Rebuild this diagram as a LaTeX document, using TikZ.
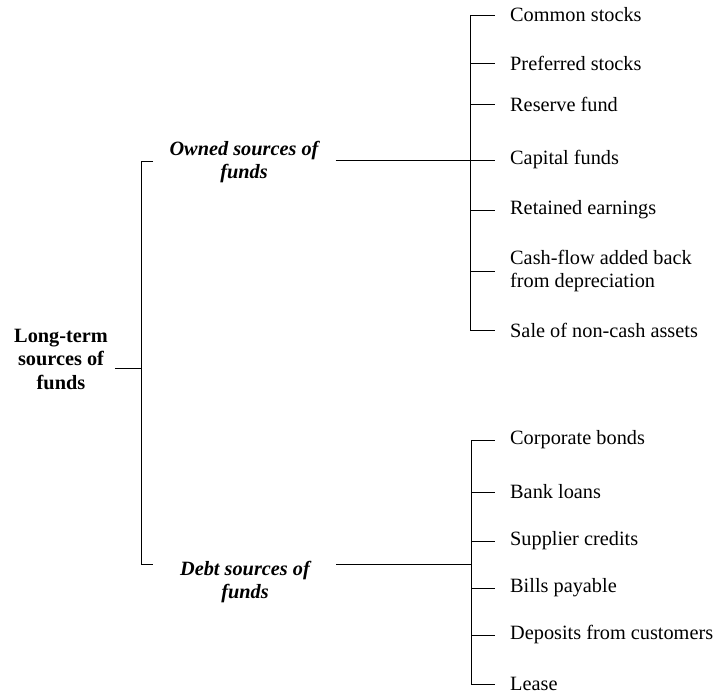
\documentclass[tikz,border=0pt]{standalone}
\usepackage{fontspec}
\setmainfont{Liberation Serif}
\begin{document}
\begin{tikzpicture}[x=1pt,y=-1pt,
  every node/.style={inner sep=3pt,font=\fontsize{20.3}{23.5}\selectfont},
  item/.style={anchor=west,align=left},
  grp/.style={align=center,font=\fontsize{20.3}{23.5}\selectfont\bfseries\itshape},
  root/.style={align=center,font=\fontsize{20.3}{23.5}\selectfont\bfseries},
  ln/.style={line width=1pt,black}]
\useasboundingbox (0,0) rectangle (715,694);
% root
\node[root] (lt) at (61,359) {Long-term\\sources of\\funds};
\node[grp] (own) at (244,162) {Owned sources of\\funds};
\node[grp] (debt) at (245,582) {Debt sources of\\funds};
% owned items
\node[item] (c1) at (507,15) {Common stocks};
\node[item] (c2) at (507,63) {Preferred stocks};
\node[item] (c3) at (507,104) {Reserve fund};
\node[item] (c4) at (507,160) {Capital funds};
\node[item] (c5) at (507,210) {Retained earnings};
\node[item] (c6) at (507,271) {Cash-flow added back\\from depreciation};
\node[item] (c7) at (507,330) {Sale of non-cash assets};
% debt items
\node[item] (d1) at (507,440) {Corporate bonds};
\node[item] (d2) at (507,492) {Bank loans};
\node[item] (d3) at (507,541) {Supplier credits};
\node[item] (d4) at (507,588) {Bills payable};
\node[item] (d5) at (507,635) {Deposits from customers};
\node[item] (d6) at (507,684) {Lease};
% spines
\coordinate (ls) at (141,0);
\coordinate (os) at (470,0);
\coordinate (ds) at (471,0);
\coordinate (lt1) at (141,161);
\coordinate (lt2) at (141,564);
\coordinate (ob) at (470,160);
\coordinate (db) at (471,564);
\coordinate (lj) at (141,368);
% root bracket
\draw[ln] ([xshift=4pt]lt.east |- lj) -- (lj);
\draw[ln] ([xshift=12pt]lt1) -- (lt1) -- (lt2) -- ([xshift=12pt]lt2);
% owned bracket
\draw[ln] ([xshift=14pt]own.east |- ob) -- (ob);
\draw[ln] (os |- c1.west) -- (os |- c7.west);
\foreach \n in {c1,c2,c3,c4,c5,c6,c7}
  \draw[ln] (os |- \n.west) -- ([xshift=-12pt]\n.west);
% debt bracket
\draw[ln] ([xshift=23pt]debt.east |- db) -- (db);
\draw[ln] (ds |- d1.west) -- (ds |- d6.west);
\foreach \n in {d1,d2,d3,d4,d5,d6}
  \draw[ln] (ds |- \n.west) -- ([xshift=-12pt]\n.west);
\end{tikzpicture}
\end{document}
